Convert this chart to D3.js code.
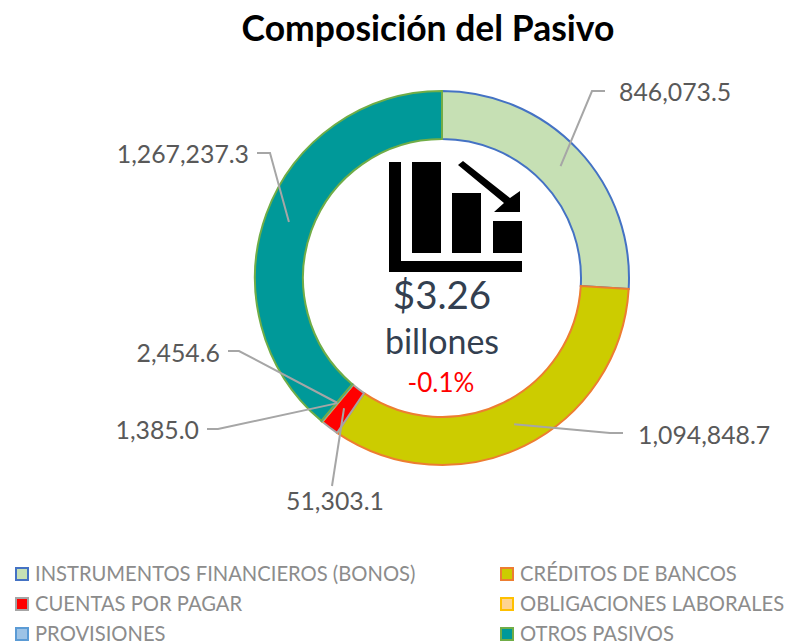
<!DOCTYPE html>
<html>
<head>
<meta charset="utf-8">
<script src="https://cdn.jsdelivr.net/npm/d3@7"></script>
<style>
body { margin: 0; background: #fff; }
text { font-family: Lato, "Open Sans", sans-serif; }
</style>
</head>
<body>
<div id="chart"></div>
<script>
var categories = ['INSTRUMENTOS FINANCIEROS (BONOS)', 'CRÉDITOS DE BANCOS', 'CUENTAS POR PAGAR',
	'OBLIGACIONES LABORALES', 'PROVISIONES', 'OTROS PASIVOS'];
var values = [846073.5, 1094848.7, 51303.1, 1385.0, 2454.6, 1267237.3];
var fills = ['#c6e0b4', '#cccc00', '#ff0000', '#ffd48f', '#9dc3e6', '#009999'];
var strokes = ['#4472c4', '#ed7d31', '#a5a5a5', '#ffc000', '#5b9bd5', '#70ad47'];

var width = 787;
var height = 643;
var cx = 442;
var cy = 278;
var outerRadius = 187;
var innerRadius = 139;

// elbow and text anchor of each leader line, relative to the top left of the picture
var leaders = [
	{elbow: [592, 91], end: [605, 91], x: 619, y: 101, anchor: 'start'},
	{elbow: [610, 433], end: [623, 433], x: 638, y: 444, anchor: 'start'},
	{elbow: null, end: [332, 486], x: 335, y: 510, anchor: 'middle'},
	{elbow: [218, 429], end: [207, 429], x: 199, y: 439, anchor: 'end'},
	{elbow: [239, 351], end: [228, 351], x: 220, y: 362, anchor: 'end'},
	{elbow: [270, 153], end: [257, 153], x: 249, y: 163, anchor: 'end'}
];

var svg = d3.select('#chart')
	.append('svg')
	.attr('width', width)
	.attr('height', height);

svg.append('text')
	.attr('x', 428)
	.attr('y', 41)
	.attr('text-anchor', 'middle')
	.style('font-size', '35.5px')
	.style('font-weight', 700)
	.style('fill', '#000')
	.text('Composición del Pasivo');

var arc = d3.arc()
	.innerRadius(innerRadius)
	.outerRadius(outerRadius);

var pie = d3.pie()
	.value(function(d){
		return d;
	})
	.sort(null);

var slices = pie(values);

var donut = svg.append('g')
	.attr('transform', 'translate(' + cx + ',' + cy + ')');

donut.selectAll('path')
	.data(slices)
	.enter()
	.append('path')
	.attr('d', arc)
	.attr('fill', function(d, i){
		return fills[i];
	})
	.attr('stroke', function(d, i){
		return strokes[i];
	})
	.attr('stroke-width', 2);

var format = d3.format(',.1f');

var line = d3.line();

svg.selectAll('.leader')
	.data(slices)
	.enter()
	.append('path')
	.attr('class', 'leader')
	.attr('fill', 'none')
	.attr('stroke', '#a6a6a6')
	.attr('stroke-width', 2)
	.attr('d', function(d, i){
		var c = arc.centroid(d);
		var pts = [[c[0] + cx, c[1] + cy]];
		if (leaders[i].elbow) pts.push(leaders[i].elbow);
		pts.push(leaders[i].end);
		return line(pts);
	});

svg.selectAll('.value')
	.data(values)
	.enter()
	.append('text')
	.attr('class', 'value')
	.attr('x', function(d, i){
		return leaders[i].x;
	})
	.attr('y', function(d, i){
		return leaders[i].y;
	})
	.attr('text-anchor', function(d, i){
		return leaders[i].anchor;
	})
	.style('font-size', '24.8px')
	.style('fill', '#595959')
	.text(function(d){
		return format(d);
	});

// bar chart icon in the hole
var icon = svg.append('g').attr('fill', '#000');
icon.append('rect').attr('x', 389).attr('y', 162).attr('width', 12).attr('height', 110);
icon.append('rect').attr('x', 389).attr('y', 261).attr('width', 133).attr('height', 11);
icon.append('rect').attr('x', 412).attr('y', 162).attr('width', 29).attr('height', 91);
icon.append('rect').attr('x', 452).attr('y', 193).attr('width', 29).attr('height', 60);
icon.append('rect').attr('x', 493).attr('y', 221).attr('width', 29).attr('height', 32);
icon.append('path').attr('d', 'M458,165 L463,161 L510,198 L520,191 L520,212 L494,212 L504,203 Z');

svg.append('text')
	.attr('x', 442).attr('y', 309)
	.attr('text-anchor', 'middle')
	.style('font-size', '38.5px')
	.style('fill', '#333f50')
	.text('$3.26');

svg.append('text')
	.attr('x', 442).attr('y', 354)
	.attr('text-anchor', 'middle')
	.style('font-size', '34px')
	.style('fill', '#333f50')
	.text('billones');

svg.append('text')
	.attr('x', 441).attr('y', 392)
	.attr('text-anchor', 'middle')
	.style('font-size', '26px')
	.style('fill', '#ff0000')
	.text('-0.1%');

var legendRectSize = 12;

var legend = svg.selectAll('.legend')
	.data(categories)
	.enter()
	.append('g')
	.attr('class', 'legend')
	.attr('transform', function(d, i){
		var horz = i % 2 == 0 ? 16 : 501;
		var vert = 568 + Math.floor(i / 2) * 30;
		return 'translate(' + horz + ',' + vert + ')';
	});

legend.append('rect')
	.attr('width', legendRectSize)
	.attr('height', legendRectSize)
	.attr('fill', function(d, i){
		return fills[i];
	})
	.attr('stroke', function(d, i){
		return strokes[i];
	})
	.attr('stroke-width', 2);

legend.append('text')
	.attr('x', 19)
	.attr('y', 13)
	.style('font-size', '20.2px')
	.style('fill', '#8c8c8c')
	.text(function(d){
		return d;
	});
</script>
</body>
</html>
